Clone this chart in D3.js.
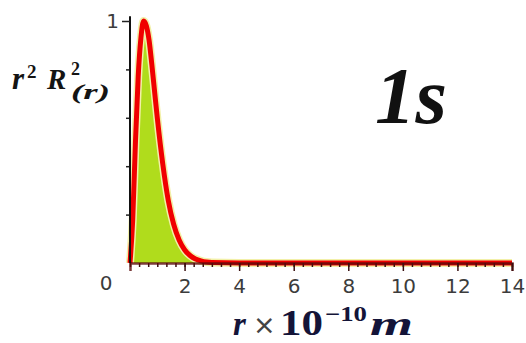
<!DOCTYPE html>
<html>
<head>
<meta charset="utf-8">
<script src="https://cdn.jsdelivr.net/npm/d3@7"></script>
<style>
  body { margin: 0; background: #fff; }
  svg { display: block; }
</style>
</head>
<body>
<script>
// radial probability r^2 R(r)^2 for 1s (normalized to peak = 1)
const rValues = [0, 0.1, 0.2, 0.3, 0.4, 0.5, 0.6, 0.7, 0.8, 0.9, 1.0, 1.2, 1.4, 1.6, 1.8, 2.0, 2.2, 2.4, 2.6, 2.8, 3.0, 4, 6, 8, 10, 12, 14];
const density = [0, 0.18, 0.50, 0.77, 0.93, 1.0, 0.98, 0.92, 0.82, 0.71, 0.60, 0.41, 0.26, 0.16, 0.095, 0.055, 0.031, 0.017, 0.009, 0.004, 0.002, 0, 0, 0, 0, 0, 0];
const xTickLabels = [2, 4, 6, 8, 10, 12, 14];
const yTickLabels = [1];
const orbitalName = "1s";

const W = 526, H = 343;
const SERIF = '"Liberation Serif", "Times New Roman", serif';
const SANS = '"DejaVu Sans", sans-serif';
const data = rValues.map((r, i) => ({ r: r, p: density[i] }));

const x = d3.scaleLinear().domain([0, 14]).range([130, 512]);
const y = d3.scaleLinear().domain([0, 1]).range([263, 21]);

const svg = d3.select("body").append("svg")
  .attr("width", W).attr("height", H);

// filled area under the curve
svg.append("path")
  .datum(data)
  .attr("fill", "#b0dc1c")
  .attr("d", d3.area().x(d => x(d.r)).y0(y(0)).y1(d => y(d.p)).curve(d3.curveMonotoneX));

const line = d3.line().x(d => x(d.r)).y(d => y(d.p)).curve(d3.curveMonotoneX);

// pale halo then red curve
svg.append("path").datum(data)
  .attr("fill", "none").attr("stroke", "#f2f0a8").attr("stroke-width", 8)
  .attr("d", line);
svg.append("path").datum(data)
  .attr("fill", "none").attr("stroke", "#f00000").attr("stroke-width", 5)
  .attr("stroke-linejoin", "round")
  .attr("d", line);

// x axis: minor ticks every 1/3, major ticks labeled
const minorX = d3.range(0, 14.001, 1 / 3);
svg.append("g")
  .attr("transform", `translate(0,${y(0)})`)
  .call(d3.axisBottom(x).tickValues(minorX).tickSize(4).tickFormat(""))
  .call(g => g.select(".domain").remove())
  .call(g => g.selectAll("line").attr("stroke", "#3a1010").attr("stroke-width", 1.5));

const xAxis = svg.append("g")
  .attr("transform", `translate(0,${y(0)})`)
  .call(d3.axisBottom(x).tickValues(xTickLabels).tickSize(8).tickPadding(8).tickFormat(d3.format("d")));
xAxis.select(".domain").attr("stroke", "#5a0a0a").attr("stroke-width", 2.5).attr("stroke-opacity", 0.8);
xAxis.selectAll("line").attr("stroke", "#3a1010").attr("stroke-width", 1.5);
xAxis.selectAll("text")
  .style("font-family", SANS).attr("font-size", 20)
  .attr("fill", "#3c3c3c");

// y axis
const yAxis = svg.append("g")
  .attr("transform", `translate(${x(0)},0)`)
  .call(d3.axisLeft(y).tickValues([0.2, 0.4, 0.6, 0.8]).tickSize(4).tickFormat(""));
yAxis.select(".domain").remove();
yAxis.selectAll("line").attr("stroke", "#222").attr("stroke-width", 1.5);

const yMajor = svg.append("g")
  .attr("transform", `translate(${x(0)},0)`)
  .call(d3.axisLeft(y).tickValues(yTickLabels).tickSize(8).tickPadding(3).tickSizeOuter(0).tickFormat(d3.format("d")));
yMajor.select(".domain").attr("d", `M0,${y(0)}V${y(1.02)}`).attr("stroke", "#111").attr("stroke-width", 2);
yMajor.selectAll("line").attr("stroke", "#222").attr("stroke-width", 1.5);
yMajor.selectAll("text")
  .style("font-family", SANS).attr("font-size", 20)
  .attr("fill", "#3c3c3c");

// origin label
svg.append("text")
  .attr("x", 106).attr("y", 290)
  .attr("text-anchor", "middle")
  .style("font-family", SANS).attr("font-size", 20)
  .attr("fill", "#3c3c3c")
  .text("0");

// small helper for the serif math labels
function lab(parent, tx, ty, size, txt, italic, len) {
  const t = parent.append("text").attr("x", tx).attr("y", ty)
    .style("font-family", SERIF).attr("font-weight", "bold")
    .attr("font-style", italic ? "italic" : "normal")
    .attr("font-size", size).text(txt);
  if (len) t.attr("textLength", len).attr("lengthAdjust", "spacingAndGlyphs");
  return t;
}

// y label r^2 R^2_(r)
const ylab = svg.append("g").attr("fill", "#141414");
lab(ylab, 12, 89, 31, "r", true);
lab(ylab, 27, 78, 19, "2", false);
lab(ylab, 47, 89, 29, "R", true);
lab(ylab, 71, 75, 18, "2", false);
lab(ylab, 71, 99, 21, "(r)", true, 39);

// orbital name
svg.append("text")
  .attr("x", 375).attr("y", 123)
  .style("font-family", SERIF).attr("font-weight", "bold").attr("font-style", "italic")
  .attr("font-size", 81).attr("fill", "#111")
  .text(orbitalName);

// x label r × 10^-10 m
const xlab = svg.append("g").attr("fill", "#141438");
lab(xlab, 233, 335, 33, "r", true);
xlab.append("text").attr("x", 253).attr("y", 334).attr("font-size", 27)
  .style("font-family", SANS).attr("fill", "#444").text("×");
lab(xlab, 280, 335, 35, "10", false, 43);
lab(xlab, 325, 321, 21, "−10", false, 42);
lab(xlab, 370, 335, 33, "m", true, 43);
</script>
</body>
</html>
